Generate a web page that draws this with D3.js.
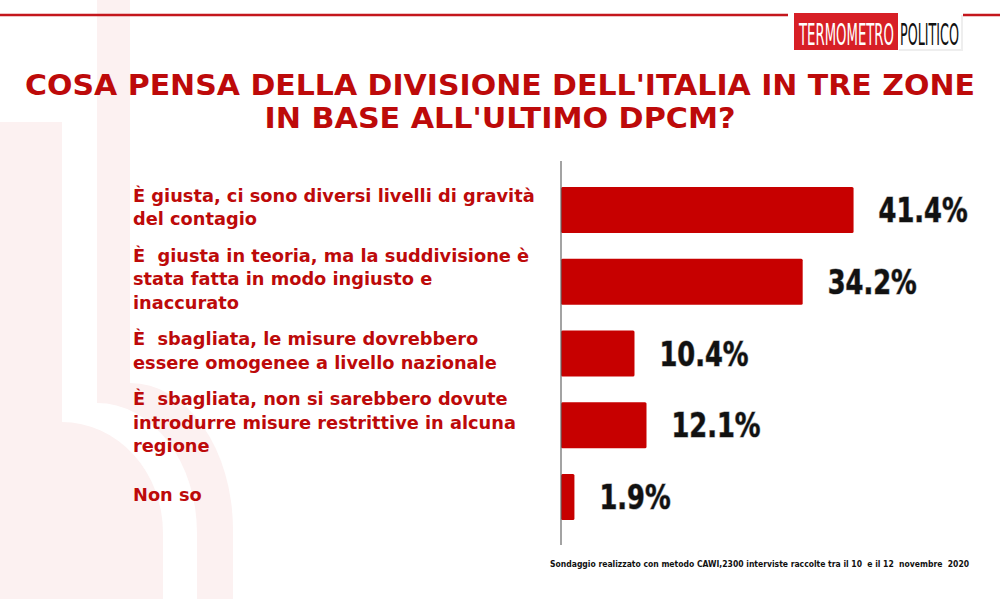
<!DOCTYPE html>
<html>
<head>
<meta charset="utf-8">
<title>Divisione dell'Italia in tre zone</title>
<script src="https://cdn.jsdelivr.net/npm/d3@7/dist/d3.min.js"></script>
<style>
  body { margin: 0; background: #fff; }
  svg { display: block; }
  text { white-space: pre; }
</style>
</head>
<body>
<script>
// data
var titleLines = ["COSA PENSA DELLA DIVISIONE DELL'ITALIA IN TRE ZONE", "IN BASE ALL'ULTIMO DPCM?"];
var categories = ["giusta", "teoria", "omogenee", "nessuna", "nonso"];
var labelLines = [
  ["È giusta, ci sono diversi livelli di gravità", "del contagio"],
  ["È  giusta in teoria, ma la suddivisione è", "stata fatta in modo ingiusto e", "inaccurato"],
  ["È  sbagliata, le misure dovrebbero", "essere omogenee a livello nazionale"],
  ["È  sbagliata, non si sarebbero dovute", "introdurre misure restrittive in alcuna", "regione"],
  ["Non so"]
];
var values = [41.4, 34.2, 10.4, 12.1, 1.9];
var footnote = "Sondaggio realizzato con metodo CAWI,2300 interviste raccolte tra il 10  e il 12  novembre  2020";

var W = 1000, H = 599;
var red = "#c70000", textRed = "#bd0a0a";

var svg = d3.select("body").append("svg")
  .attr("width", W).attr("height", H);

// squeeze a text horizontally so it spans w pixels
function squeeze(t, x0, y0, w) {
  var n = t.node().getComputedTextLength();
  t.attr("x", 0).attr("y", 0)
    .attr("transform", "translate(" + x0 + "," + y0 + ") scale(" + (w / n) + ",1)");
}

// faint watermark in background
var wm = svg.append("g").attr("fill", "#fcf1f1");
wm.append("path").attr("d", "M0,122 L62,122 L62,422 A101,111 0 0 1 163,533 L163,599 L0,599 Z");
wm.append("path").attr("d", "M97,0 L130,0 L130,383 A103,147 0 0 1 233,530 L233,599 L197,599 L197,533 A100,130 0 0 0 97,403 Z");

// top rule and logo
svg.append("line").attr("x1", 0).attr("x2", 788).attr("y1", 15).attr("y2", 15)
  .attr("stroke", "#c4161c").attr("stroke-width", 2.5);
svg.append("line").attr("x1", 963).attr("x2", W).attr("y1", 15).attr("y2", 15)
  .attr("stroke", "#c4161c").attr("stroke-width", 2.5);
svg.append("rect").attr("x", 899).attr("y", 15).attr("width", 64).attr("height", 36)
  .attr("fill", "#eee");
svg.append("rect").attr("x", 897).attr("y", 13).attr("width", 64).attr("height", 36)
  .attr("fill", "#fff");
svg.append("rect").attr("x", 794).attr("y", 13).attr("width", 104).attr("height", 37)
  .attr("fill", "#d71f26");
var t1 = svg.append("text")
  .style("font-family", "DejaVu Sans Condensed").style("font-size", "31px")
  .attr("fill", "#fff").text("TERMOMETRO");
squeeze(t1, 799, 45, 95);
var t2 = svg.append("text")
  .style("font-family", "DejaVu Sans Condensed").style("font-size", "31px")
  .attr("fill", "#111").text("POLITICO");
squeeze(t2, 900, 45, 59);

// title
svg.selectAll("text.title").data(titleLines).enter().append("text")
  .attr("class", "title")
  .attr("x", W / 2)
  .attr("y", function(d, i) { return 95 + i * 33; })
  .attr("text-anchor", "middle")
  .attr("textLength", function(d, i) { return i == 0 ? 950 : 471; })
  .attr("lengthAdjust", "spacingAndGlyphs")
  .style("font-family", "DejaVu Sans").style("font-weight", "bold")
  .style("font-size", "28px").attr("fill", textRed)
  .text(function(d) { return d; });

// scales
var x = d3.scaleLinear().domain([0, 45]).range([561, 879]);
var y = d3.scaleBand().domain(categories).range([187, 520])
  .paddingInner(0.36).paddingOuter(0);

// bars
svg.selectAll("rect.bar").data(values).enter().append("rect")
  .attr("class", "bar")
  .attr("x", x(0))
  .attr("y", function(d, i) { return y(categories[i]); })
  .attr("width", function(d) { return x(d) - x(0); })
  .attr("height", y.bandwidth())
  .attr("rx", 1.5)
  .attr("fill", red);

// axis line
svg.append("line")
  .attr("x1", x(0)).attr("x2", x(0))
  .attr("y1", y.range()[0] - 26).attr("y2", y.range()[1] + 25)
  .attr("stroke", "#666").attr("stroke-width", 1.2);

// value labels (narrow, tall figures)
svg.selectAll("text.val").data(values).enter().append("text")
  .attr("class", "val")
  .attr("transform", function(d, i) {
    return "translate(" + (x(d) + 25) + "," + (y(categories[i]) + y.bandwidth() / 2 + 12) + ") scale(0.84,1)";
  })
  .style("font-family", "DejaVu Sans Condensed").style("font-weight", "bold")
  .style("font-size", "34px")
  .attr("fill", "#111").attr("stroke", "#999").attr("stroke-width", 1.2)
  .style("paint-order", "stroke")
  .text(function(d) { return d.toFixed(1) + "%"; });

// category labels
var lh = 23.5;
var lab = svg.selectAll("g.lab").data(labelLines).enter().append("g")
  .attr("class", "lab")
  .attr("transform", function(d, i) {
    var c = y(categories[i]) + y.bandwidth() / 2 - 3;
    return "translate(133," + (c - (d.length - 1) * lh / 2 + 6.5) + ")";
  });
lab.selectAll("text").data(function(d) { return d; }).enter().append("text")
  .attr("x", 0)
  .attr("y", function(d, i) { return i * lh; })
  .style("font-family", "DejaVu Sans").style("font-weight", "bold")
  .style("font-size", "17.8px").attr("fill", textRed)
  .text(function(d) { return d; });

// footnote
var fn = svg.append("text")
  .style("font-family", "DejaVu Sans Condensed").style("font-weight", "bold")
  .style("font-size", "9px").attr("fill", "#111")
  .text(footnote);
squeeze(fn, 550, 567, 420);
</script>
</body>
</html>
